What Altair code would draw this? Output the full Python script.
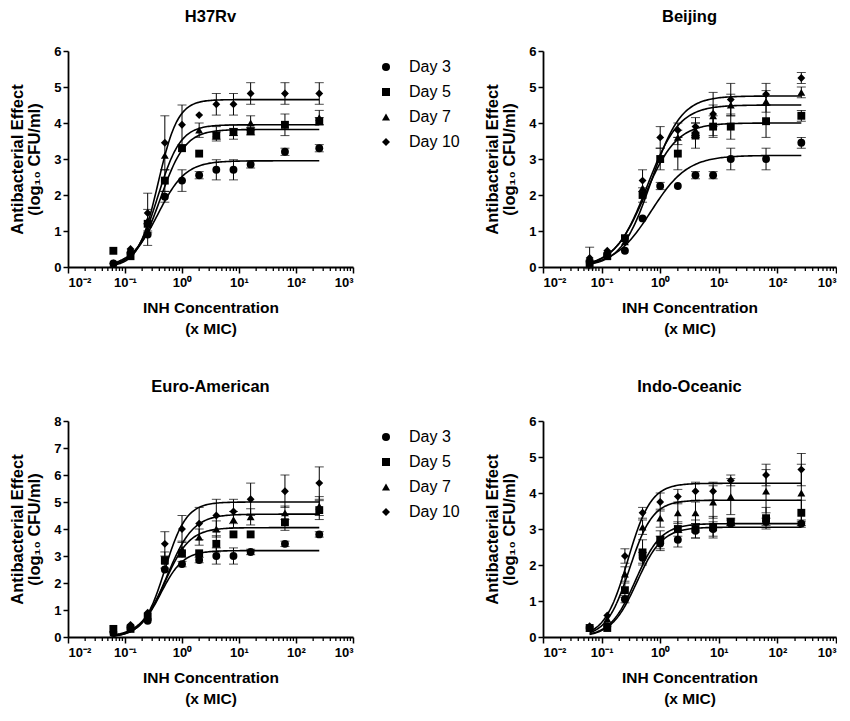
import altair as alt
import numpy as np
import pandas as pd

# ---------------- data ----------------
CONC = [0.0625, 0.125, 0.25, 0.5, 1, 2, 4, 8, 16, 64, 256]
DAYS = ["Day 3", "Day 5", "Day 7", "Day 10"]
SHAPES = ["circle", "square", "triangle-up", "diamond"]
STRAINS = ["H37Rv", "Beijing", "Euro-American", "Indo-Oceanic"]
YMAX = {"H37Rv": 6, "Beijing": 6, "Euro-American": 8, "Indo-Oceanic": 6}

# mean antibacterial effect (log10 CFU/ml) per day
H37RV_MEAN = {
    "Day 3":  [0.10, 0.40, 0.90, 1.95, 2.40, 2.55, 2.70, 2.70, 2.85, 3.20, 3.30],
    "Day 5":  [0.45, 0.30, 1.20, 2.40, 3.30, 3.15, 3.65, 3.75, 3.77, 3.95, 4.05],
    "Day 7":  [0.10, 0.45, 1.30, 3.10, 3.30, 3.80, 3.70, 3.75, 4.00, 3.95, 4.15],
    "Day 10": [0.10, 0.50, 1.50, 3.45, 3.95, 4.22, 4.52, 4.52, 4.82, 4.82, 4.82],
}
H37RV_SD = {
    "Day 3":  [0, 0, 0.30, 0.15, 0.30, 0.10, 0.28, 0.28, 0.10, 0.10, 0.10],
    "Day 5":  [0, 0, 0, 0.30, 0, 0, 0.10, 0.10, 0.10, 0, 0.10],
    "Day 7":  [0, 0, 0.30, 0, 0, 0.20, 0.20, 0.20, 0.20, 0.30, 0.20],
    "Day 10": [0, 0, 0.55, 0.75, 0.55, 0, 0.30, 0.30, 0.30, 0.30, 0.30],
}
BEIJING_MEAN = {
    "Day 3":  [0.15, 0.35, 0.45, 1.35, 2.25, 2.25, 2.55, 2.55, 3.00, 3.00, 3.45],
    "Day 5":  [0.10, 0.30, 0.80, 2.00, 3.00, 3.15, 3.65, 3.90, 3.90, 4.05, 4.20],
    "Day 7":  [0.20, 0.40, 0.70, 2.20, 3.00, 3.60, 3.80, 4.20, 4.50, 4.60, 4.85],
    "Day 10": [0.25, 0.45, 0.80, 2.40, 3.60, 3.80, 3.90, 4.25, 4.65, 4.80, 5.25],
}
BEIJING_SD = {
    "Day 3":  [0, 0, 0, 0, 0.10, 0, 0.10, 0.10, 0.30, 0.30, 0.15],
    "Day 5":  [0, 0, 0, 0.20, 0, 0.45, 0.35, 0.30, 0.35, 0.45, 0.15],
    "Day 7":  [0, 0, 0, 0, 0.30, 0.20, 0.20, 0.30, 0.30, 0.30, 0.15],
    "Day 10": [0.30, 0, 0, 0.30, 0.30, 0.20, 0.25, 0.60, 0.45, 0.30, 0.15],
}
EURO_MEAN = {
    "Day 3":  [0.15, 0.35, 0.60, 2.50, 2.70, 2.85, 3.00, 3.00, 3.15, 3.45, 3.80],
    "Day 5":  [0.30, 0.30, 0.75, 2.85, 3.10, 3.10, 3.45, 3.80, 3.80, 4.25, 4.70],
    "Day 7":  [0.15, 0.40, 0.80, 2.80, 3.25, 3.70, 4.00, 4.35, 4.45, 4.60, 4.85],
    "Day 10": [0.20, 0.45, 0.90, 3.45, 4.00, 4.20, 4.50, 4.65, 5.10, 5.40, 5.70],
}
EURO_SD = {
    "Day 3":  [0, 0, 0, 0, 0.10, 0.10, 0.30, 0.30, 0.10, 0.10, 0.10],
    "Day 5":  [0, 0, 0, 0.30, 0, 0, 0.30, 0, 0, 0.30, 0.35],
    "Day 7":  [0, 0, 0, 0, 0.30, 0.30, 0.30, 0.30, 0.30, 0.25, 0.35],
    "Day 10": [0, 0, 0, 0.45, 0.50, 0.60, 0.60, 0.45, 0.60, 0.60, 0.60],
}
INDO_MEAN = {
    "Day 3":  [0.25, 0.30, 1.05, 2.20, 2.60, 2.70, 2.95, 3.00, 3.15, 3.20, 3.15],
    "Day 5":  [0.25, 0.25, 1.30, 2.35, 2.70, 3.00, 3.00, 3.05, 3.20, 3.30, 3.45],
    "Day 7":  [0.25, 0.50, 1.75, 3.05, 3.30, 3.45, 3.45, 3.75, 3.90, 4.05, 4.00],
    "Day 10": [0.30, 0.60, 2.25, 3.45, 3.75, 3.90, 4.05, 4.05, 4.35, 4.50, 4.65],
}
INDO_SD = {
    "Day 3":  [0, 0, 0.10, 0.15, 0.20, 0.20, 0.20, 0.20, 0.10, 0.10, 0.10],
    "Day 5":  [0, 0, 0.20, 0.35, 0.25, 0.20, 0.25, 0.30, 0.10, 0.30, 0.35],
    "Day 7":  [0, 0, 0.20, 0.20, 0.25, 0.30, 0.30, 0.45, 0.50, 0.60, 0.80],
    "Day 10": [0, 0, 0.20, 0.15, 0.25, 0.20, 0.25, 0.25, 0.15, 0.30, 0.45],
}
# fitted sigmoid Emax model parameters: (Emax, EC50, Hill)
H37RV_FIT = {"Day 3": (2.95, 0.38, 1.8), "Day 5": (3.82, 0.42, 2.0),
             "Day 7": (3.95, 0.38, 2.2), "Day 10": (4.65, 0.38, 2.5)}
BEIJING_FIT = {"Day 3": (3.10, 0.70, 1.4), "Day 5": (4.00, 0.55, 1.6),
               "Day 7": (4.50, 0.60, 1.6), "Day 10": (4.75, 0.70, 1.7)}
EURO_FIT = {"Day 3": (3.20, 0.42, 2.2), "Day 5": (4.05, 0.50, 2.0),
            "Day 7": (4.55, 0.55, 1.9), "Day 10": (5.00, 0.50, 2.3)}
INDO_FIT = {"Day 3": (3.05, 0.40, 2.0), "Day 5": (3.15, 0.38, 2.0),
            "Day 7": (3.80, 0.30, 2.2), "Day 10": (4.27, 0.28, 2.2)}

MEANS = {"H37Rv": H37RV_MEAN, "Beijing": BEIJING_MEAN,
         "Euro-American": EURO_MEAN, "Indo-Oceanic": INDO_MEAN}
SDS = {"H37Rv": H37RV_SD, "Beijing": BEIJING_SD,
       "Euro-American": EURO_SD, "Indo-Oceanic": INDO_SD}
FITS = {"H37Rv": H37RV_FIT, "Beijing": BEIJING_FIT,
        "Euro-American": EURO_FIT, "Indo-Oceanic": INDO_FIT}

MAJOR = [0.01, 0.1, 1, 10, 100, 1000]
MINOR = [m * 10.0 ** k for k in range(-2, 3) for m in range(2, 10)]

FONT = "Liberation Sans"


def points_df(strain):
    rows = []
    for d in DAYS:
        for c, m, s in zip(CONC, MEANS[strain][d], SDS[strain][d]):
            rows.append({"conc": c, "val": m, "sd": s, "lo": m - s,
                         "hi": m + s, "day": d})
    return pd.DataFrame(rows)


def curve_df(strain):
    xs = np.geomspace(CONC[0], CONC[-1], 150)
    rows = []
    for d in DAYS:
        emax, ec50, h = FITS[strain][d]
        for x in xs:
            rows.append({"conc": x, "val": emax * x ** h / (ec50 ** h + x ** h), "day": d})
    return pd.DataFrame(rows)


LABEL_EXPR = ("['10\u207b\u00b2','10\u207b\u00b9','10\u2070','10\u00b9','10\u00b2','10\u00b3']"
              "[round(log(datum.value)/LN10)+2]")


def panel(strain, width, show_legend):
    ymax = YMAX[strain]
    H = 216
    xs = alt.Scale(type="log", domain=[0.01, 1000], nice=False)
    ys = alt.Scale(domain=[0, ymax], nice=False, zero=True)
    x_axis = alt.Axis(values=MAJOR, labelExpr=LABEL_EXPR, tickSize=6,
                      title=["INH Concentration", "(x MIC)"], titlePadding=11,
                      titleFontSize=15.5, titleLineHeight=21, labelPadding=3,
                      labelFontSize=13)
    y_axis = alt.Axis(values=list(range(ymax + 1)), tickSize=5,
                      title=["Antibacterial Effect", "(log\u2081\u2080 CFU/ml)"],
                      titlePadding=11, titleFontSize=16.5, titleLineHeight=17,
                      labelFontSize=13, labelPadding=2)
    pts = points_df(strain)
    errs = pts[pts["sd"] > 0]

    def X(field):
        return alt.X(field, type="quantitative", scale=xs, axis=x_axis)

    def Y(field):
        return alt.Y(field, type="quantitative", scale=ys, axis=y_axis)

    curves = alt.Chart(curve_df(strain)).mark_line(
        color="black", strokeWidth=1.6, clip=True).encode(
        x=X("conc"), y=Y("val"), detail="day:N")
    bars = alt.Chart(errs).mark_rule(color="black", strokeWidth=1).encode(
        x=X("conc"), y=Y("lo"), y2="hi:Q")
    cap_lo = alt.Chart(errs).mark_tick(color="black", size=9, thickness=1,
                                       orient="horizontal").encode(
        x=X("conc"), y=Y("lo"))
    cap_hi = alt.Chart(errs).mark_tick(color="black", size=9, thickness=1,
                                       orient="horizontal").encode(
        x=X("conc"), y=Y("hi"))
    if show_legend:
        legend = alt.Legend(title=None, orient="none", legendX=310, legendY=8,
                            labelFont=FONT, labelFontSize=16, labelColor="black",
                            labelFontWeight="normal", symbolSize=65,
                            symbolFillColor="black", symbolStrokeColor="black",
                            rowPadding=9, labelOffset=15, padding=0)
    else:
        legend = None
    marks = alt.Chart(pts).mark_point(filled=True, color="black", opacity=1,
                                      size=62).encode(
        x=X("conc"), y=Y("val"),
        shape=alt.Shape("day:N", scale=alt.Scale(domain=DAYS, range=SHAPES),
                        legend=legend, sort=DAYS))
    minor = alt.Chart(pd.DataFrame({"m": MINOR})).mark_rule(
        color="black", strokeWidth=1.3).encode(
        x=X("m"), y=alt.value(H), y2=alt.value(H + 4))

    return alt.layer(curves, minor, bars, cap_lo, cap_hi, marks).properties(
        width=width, height=H,
        title=alt.TitleParams(strain, fontSize=16.5, fontWeight="bold", font=FONT,
                              color="black", offset=20, frame="group",
                              anchor="middle"))


p1 = panel("H37Rv", 285, True)
p2 = panel("Beijing", 293, False)
p3 = panel("Euro-American", 285, True)
p4 = panel("Indo-Oceanic", 293, False)

chart = alt.concat(p1, p2, p3, p4, columns=2,
                   spacing={"row": 154, "column": 190}, bounds="flush").resolve_scale(
    x="independent", y="independent", shape="independent").resolve_legend(
    shape="independent").properties(
    padding={"left": 1, "top": 0, "right": 0, "bottom": 5}).configure_view(
    stroke=None).configure_axis(
    grid=False, domainColor="black", domainWidth=1.8, tickColor="black",
    tickWidth=1.5, labelFont=FONT, labelFontWeight="bold", labelColor="black",
    titleFont=FONT, titleFontWeight="bold", titleColor="black")

chart.save("out.html", embed_options={"renderer": "svg", "actions": False})
